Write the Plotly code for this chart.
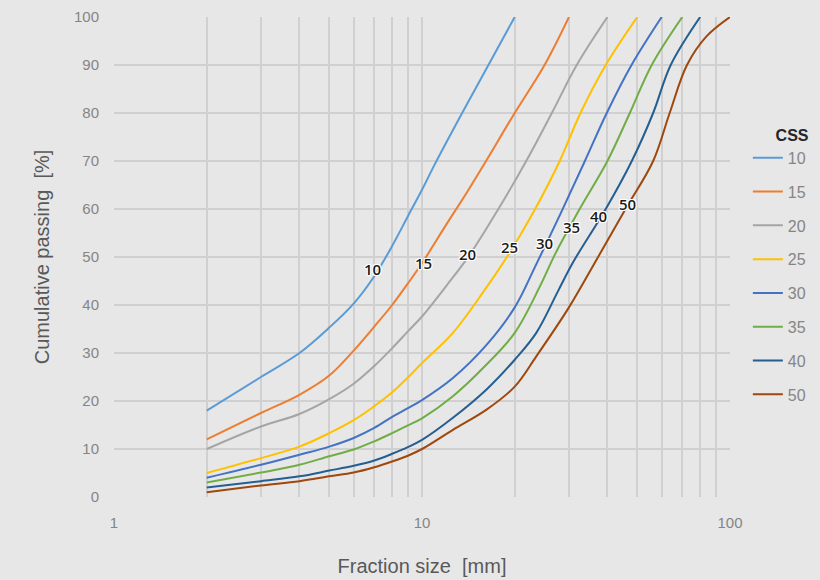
import math
import plotly.graph_objects as go

css = ["10", "15", "20", "25", "30", "35", "40", "50"]
colors = ["#5B9BD5", "#ED7D31", "#A5A5A5", "#FFC000", "#4472C4", "#70AD47", "#255E91", "#9E480E"]

x10 = [2, 3, 4, 5, 6, 7, 8, 9, 10, 11, 13.5, 16.5, 20]
y10 = [18, 25, 30, 35.3, 40.3, 46, 52.3, 58.5, 64, 69.3, 80, 90.2, 100]

x15 = [2, 3, 4, 5, 6, 7, 8, 9, 10, 12, 14, 16, 20, 25, 30]
y15 = [12, 17.5, 21.3, 25.3, 30.5, 35.5, 40, 44.5, 48.7, 56.8, 63.5, 69.6, 80, 90, 100]

x20 = [2, 3, 4, 5, 6, 7, 8, 9, 10, 12, 14.3, 17.7, 21.8, 26.4, 31.8, 40]
y20 = [10, 14.7, 17.3, 20.4, 23.6, 27.3, 31, 34.5, 37.6, 44, 50.5, 60, 70, 80, 90, 100]

x25 = [2, 3, 4, 5, 6, 7, 8, 9, 10, 12.6, 16, 19.3, 23.3, 28, 32.7, 39.5, 50]
y25 = [5, 8.1, 10.5, 13.3, 16, 18.9, 21.8, 24.9, 27.9, 34.2, 43.2, 51, 60, 70, 80, 90, 100]

x30 = [2, 3, 4, 5, 6, 7, 8, 9, 10, 12.6, 16.2, 20, 23.3, 28.4, 33.8, 39.8, 47.9, 60]
y30 = [4, 6.7, 8.8, 10.5, 12.3, 14.4, 16.7, 18.5, 20.2, 24.8, 31.7, 39.5, 48, 59.5, 70, 80, 90, 100]

x35 = [2, 3, 4, 5, 6, 7, 8, 9, 10, 12.6, 16.2, 20, 24.2, 27, 32.5, 40, 47.3, 55.7, 70]
y35 = [3, 5.1, 6.7, 8.5, 9.9, 11.6, 13.3, 14.9, 16.4, 21, 27.6, 34.2, 44, 50.5, 60, 70, 80, 90, 100]

x40 = [2, 3, 4, 5, 6, 7, 8, 9, 10, 12.6, 16.2, 20, 23.5, 27.7, 31, 39.5, 48, 56.3, 64.2, 80]
y40 = [2, 3.3, 4.3, 5.5, 6.5, 7.6, 9, 10.4, 11.9, 16.5, 22.4, 28.6, 34.2, 43, 49, 60, 70, 80, 90, 100]

x50 = [2, 3, 4, 5, 6, 7, 8, 9, 10, 12.6, 16.2, 20, 23.5, 30, 37.3, 45.8, 56.3, 63.7, 72.5, 84, 100]
y50 = [1, 2.4, 3.3, 4.3, 5.1, 6.2, 7.4, 8.6, 10, 14, 18.2, 23, 29.3, 39.5, 50, 60, 70, 80, 90, 96, 100]

xs = [x10, x15, x20, x25, x30, x35, x40, x50]
ys = [y10, y15, y20, y25, y30, y35, y40, y50]

label_x = [6.93, 10.15, 14.1, 19.3, 24.9, 30.5, 37.3, 46.3]
label_y = [47.6, 48.8, 50.7, 52.0, 53.0, 56.3, 58.6, 61.1]

x_tickvals = [1, 10, 100]
x_ticktext = ["1", "10", "100"]
y_tickvals = [0, 10, 20, 30, 40, 50, 60, 70, 80, 90, 100]

fig = go.Figure()
for name, c, x, y in zip(css, colors, xs, ys):
    fig.add_trace(go.Scatter(
        x=x, y=y, mode="lines", name=name, legendgroup=name,
        line=dict(color=c, width=2, shape="spline", smoothing=1.0),
        hoverinfo="skip",
    ))

halo = ("1px 1px 0px white, -1px -1px 0px white, 1px -1px 0px white, -1px 1px 0px white, "
        "0px 1px 0px white, 0px -1px 0px white, 1px 0px 0px white, -1px 0px 0px white")
for t, lx, ly in zip(css, label_x, label_y):
    fig.add_annotation(
        x=math.log10(lx), y=ly, xref="x", yref="y", text=t, showarrow=False,
        font=dict(family="Open Sans", size=15, weight=600, color="#1a1a1a", shadow=halo),
    )

grid = "#d0d0d0"
fig.update_layout(
    width=820, height=580,
    paper_bgcolor="#e7e7e7", plot_bgcolor="#e7e7e7",
    margin=dict(l=114, r=90, t=17, b=83),
    font=dict(family="Liberation Sans, Arial", color="#858585"),
    showlegend=True,
    legend=dict(
        xref="container", yref="container",
        x=0.912, xanchor="left", y=0.793, yanchor="top",
        maxheight=480,
        bgcolor="rgba(0,0,0,0)",
        font=dict(size=16, color="#858585", family="Liberation Sans, Arial"),
        title=dict(text="<b>CSS</b>", font=dict(size=16, color="#262626"), side="top right"),
        tracegroupgap=10,
        itemwidth=30,
    ),
    xaxis=dict(
        type="log", range=[0, 2], automargin=False,
        tickvals=x_tickvals, ticktext=x_ticktext,
        showgrid=True, gridcolor=grid, gridwidth=1.5,
        minor=dict(dtick="D1", showgrid=True, gridcolor=grid, gridwidth=1.5, ticklen=0),
        zeroline=False, showline=False, ticks="",
        tickfont=dict(size=15, color="#858585"),
        ticklabelstandoff=15,
        title=dict(text="Fraction size  [mm]", font=dict(size=20, color="#595959"), standoff=28),
    ),
    yaxis=dict(
        range=[0, 100], tickvals=y_tickvals, automargin=False,
        showgrid=True, gridcolor=grid, gridwidth=1.5,
        zeroline=False, showline=False, ticks="",
        tickfont=dict(size=15, color="#858585"),
        ticklabelstandoff=14,
        title=dict(text="Cumulative passing  [%]", font=dict(size=20, color="#595959"), standoff=18),
    ),
)

fig.write_html("out.html", config={"displayModeBar": False},
               post_script="document.body.style.margin='0px';")
